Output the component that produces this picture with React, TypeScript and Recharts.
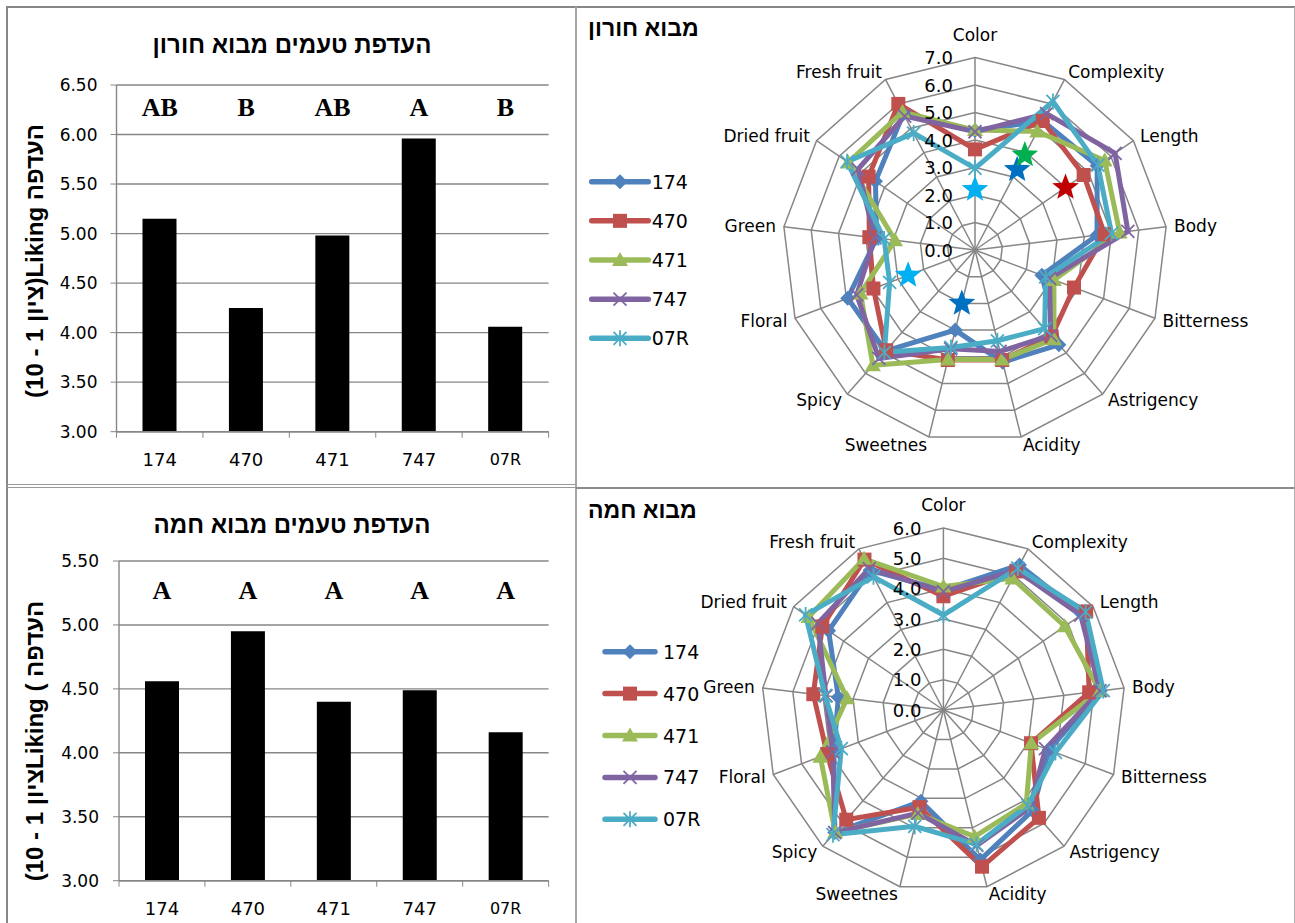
import React from 'react';
import {
  BarChart, Bar, XAxis, YAxis, CartesianGrid, ReferenceDot,
  RadarChart, Radar, PolarGrid, PolarAngleAxis, PolarRadiusAxis,
} from 'recharts';

const FONT = "'DejaVu Sans', sans-serif";
const HEB = "'Liberation Sans', 'DejaVu Sans', sans-serif";
const GRID = '#868686';

// bar charts
const categories = ['174', '470', '471', '747', '07R'];
const likingHoron = [5.15, 4.25, 4.98, 5.96, 4.06];
const lettersHoron = ['AB', 'B', 'AB', 'A', 'B'];
const likingHama = [4.56, 4.95, 4.4, 4.49, 4.16];
const lettersHama = ['A', 'A', 'A', 'A', 'A'];
const ticksHoron = [3, 3.5, 4, 4.5, 5, 5.5, 6, 6.5];
const ticksHama = [3, 3.5, 4, 4.5, 5, 5.5];

// radar charts
const attributes = ['Color', 'Complexity', 'Length', 'Body', 'Bitterness', 'Astrigency', 'Acidity',
  'Sweetnes', 'Spicy', 'Floral', 'Green', 'Dried fruit', 'Fresh fruit'];
const seriesColors = ['#4F81BD', '#C0504D', '#9BBB59', '#8064A2', '#4BACC6'];
const seriesMarkers = ['diamond', 'square', 'triangle', 'x', 'asterisk'];

const horon174 = [4.35, 5.3, 5.4, 4.47, 2.6, 4.6, 4.2, 3.0, 4.9, 4.95, 3.6, 4.4, 5.6];
const horon470 = [3.66, 5.3, 4.8, 4.75, 3.85, 4.2, 4.12, 4.12, 4.87, 3.95, 3.87, 4.7, 6.0];
const horon471 = [4.36, 4.87, 5.73, 5.3, 3.07, 4.33, 4.1, 4.1, 5.6, 4.45, 2.93, 5.6, 5.67];
const horon747 = [4.3, 5.6, 6.19, 5.6, 2.9, 4.15, 3.8, 3.7, 5.27, 4.6, 3.67, 5.17, 5.5];
const horon07R = [2.97, 6.1, 5.43, 5.0, 2.75, 3.82, 3.4, 3.65, 4.97, 3.32, 3.33, 5.65, 4.8];

const starLightBlue = [2.2, null, null, null, null, null, null, null, null, 2.6, null, null, null];
const starBlue = [null, 3.3, null, null, null, null, null, 2.0, null, null, null, null, null];
const starGreen = [null, 3.9, null, null, null, null, null, null, null, null, null, null, null];
const starRed = [null, null, 4.0, null, null, null, null, null, null, null, null, null, null];
const starColors = ['#00B0F0', '#0070C0', '#00B050', '#C00000'];

const hama174 = [3.95, 5.4, 5.55, 5.2, 3.72, 4.43, 5.09, 3.1, 5.4, 3.86, 3.49, 4.6, 5.2];
const hama470 = [3.75, 5.16, 5.72, 4.84, 3.09, 4.75, 5.32, 3.3, 4.83, 4.1, 4.32, 4.85, 5.6];
const hama471 = [4.07, 4.9, 4.86, 5.2, 3.1, 4.12, 4.3, 3.53, 5.38, 4.34, 3.2, 5.4, 5.63];
const hama747 = [3.9, 5.2, 5.5, 5.2, 3.6, 4.3, 4.6, 3.5, 5.4, 3.9, 3.9, 5.03, 5.26];
const hama07R = [3.13, 5.28, 5.7, 5.31, 3.95, 4.2, 4.56, 3.95, 5.49, 3.6, 3.93, 5.52, 4.96];

const horonSeries = [horon174, horon470, horon471, horon747, horon07R];
const hamaSeries = [hama174, hama470, hama471, hama747, hama07R];
const horonStars = [starLightBlue, starBlue, starGreen, starRed];

const buildRadarData = (series: number[][], stars: (number | null)[][]) =>
  attributes.map((attr, i) => {
    const row: any = { attr };
    series.forEach((s, k) => { row['s' + k] = s[i]; });
    stars.forEach((s, k) => { row['st' + k] = s[i]; });
    return row;
  });

function Marker({ kind, x, y, color }: { kind: string; x: number; y: number; color: string }) {
  if (kind === 'diamond') {
    return <polygon points={`${x},${y - 7.5} ${x + 7.5},${y} ${x},${y + 7.5} ${x - 7.5},${y}`} fill={color} />;
  }
  if (kind === 'square') return <rect x={x - 7} y={y - 7} width={14} height={14} fill={color} />;
  if (kind === 'triangle') {
    return <polygon points={`${x},${y - 8} ${x + 8},${y + 6} ${x - 8},${y + 6}`} fill={color} />;
  }
  const d = 6.5;
  return (
    <g stroke={color} strokeWidth={1.8}>
      <line x1={x - d} y1={y - d} x2={x + d} y2={y + d} />
      <line x1={x - d} y1={y + d} x2={x + d} y2={y - d} />
      {kind === 'asterisk' && <line x1={x} y1={y - 8} x2={x} y2={y + 8} />}
    </g>
  );
}

const starPoints = (cx: number, cy: number, R: number, r: number) => {
  const pts: string[] = [];
  for (let i = 0; i < 10; i++) {
    const a = (Math.PI / 5) * i - Math.PI / 2;
    const rad = i % 2 === 0 ? R : r;
    pts.push(`${cx + rad * Math.cos(a)},${cy + rad * Math.sin(a)}`);
  }
  return pts.join(' ');
};

function BarPanel({ top, height, values, letters, letterLevel, ticks, title, titleY, yLabel, yLabelY,
  plotTop, plotBottom, plotLeft, tickMargin }: any) {
  const width = 578;
  const plotRight = 548.6;
  const yAxisW = 70;
  const xAxisH = 40;
  const half = (plotRight - plotLeft) / categories.length / 2;
  const data = categories.map((name, i) => ({ name, v: values[i] }));

  const xTick = (props: any) => {
    const { x, y, payload, index } = props;
    const last = index === categories.length - 1;
    return (
      <g>
        <line x1={x - half} x2={x - half} y1={y} y2={y + 6} stroke={GRID} />
        {last && <line x1={x + half} x2={x + half} y1={y} y2={y + 6} stroke={GRID} />}
        <text x={x} y={y + 28} textAnchor="middle" dominantBaseline="central" fill="#000"
          fontFamily={FONT} fontSize={payload.value === '07R' ? 16 : 18}>{payload.value}</text>
      </g>
    );
  };

  return (
    <div style={{ position: 'absolute', left: 0, top, width, height }}>
      <BarChart width={width} height={height} data={data}
        margin={{ top: plotTop, right: width - plotRight, bottom: height - plotBottom - xAxisH, left: plotLeft - yAxisW }}>
        <CartesianGrid vertical={false} stroke={GRID} strokeWidth={1.4} />
        <XAxis dataKey="name" height={xAxisH} tickSize={0} tickMargin={0} tick={xTick}
          axisLine={{ stroke: GRID, strokeWidth: 1.4 }} tickLine={false} interval={0} />
        <YAxis width={yAxisW} domain={[ticks[0], ticks[ticks.length - 1]]} ticks={ticks}
          tickFormatter={(v: number) => v.toFixed(2)} tickSize={6} tickMargin={tickMargin}
          axisLine={{ stroke: GRID, strokeWidth: 1.4 }} tickLine={{ stroke: GRID }}
          tick={{ fill: '#000', fontSize: 17, fontFamily: FONT }} />
        <Bar dataKey="v" fill="#000" barSize={34} isAnimationActive={false} />
        {letters.map((l: string, i: number) => (
          <ReferenceDot key={i} x={categories[i]} y={letterLevel} r={0}
            shape={(p: any) => (
              <text x={p.cx} y={p.cy} textAnchor="middle" dominantBaseline="central" fill="#000"
                fontFamily="'Liberation Serif', serif" fontWeight="bold" fontSize={26}>{l}</text>
            )} />
        ))}
      </BarChart>
      <div style={{ position: 'absolute', left: 0, right: 0, top: titleY, transform: 'translateY(-50%)',
        textAlign: 'center', paddingLeft: 6, font: `bold 24px ${HEB}`, color: '#000' }}>{title}</div>
      <div style={{ position: 'absolute', left: 35, top: yLabelY, width: 0, height: 0 }}>
        <div style={{ position: 'absolute', whiteSpace: 'nowrap', transform: 'translate(-50%, -50%) rotate(-90deg)',
          font: `bold 24px ${HEB}`, color: '#000' }}>{yLabel}</div>
      </div>
    </div>
  );
}

function RadarPanel({ top, height, data, max, cx, cy, radius, starCount, title, titleY, legendY, legendX }: any) {
  const width = 717;
  const radiusTicks = Array.from({ length: max + 1 }, (_, i) => i);

  const angleTick = (props: any) => {
    const { x, y, payload } = props;
    const dx = x - cx;
    const dy = y - cy;
    const r = Math.hypot(dx, dy) || 1;
    const ux = dx / r;
    const uy = dy / r;
    const anchor = ux > 0.15 ? 'start' : ux < -0.15 ? 'end' : 'middle';
    const shiftY = anchor === 'middle' ? uy * 15 : 0;
    return (
      <text x={x} y={y + shiftY} textAnchor={anchor} dominantBaseline="central" fill="#000"
        fontFamily={FONT} fontSize={17}>{payload.value}</text>
    );
  };

  const radiusTick = (props: any) => (
    <text x={props.x - 22} y={props.y} textAnchor="end" dominantBaseline="central" fill="#000"
      fontFamily={FONT} fontSize={18}>{Number(props.payload.value).toFixed(1)}</text>
  );

  const starShape = (key: string, color: string) => (props: any) => (
    <g>
      {(props.points || [])
        .filter((p: any) => p.payload && p.payload[key] != null && Number.isFinite(p.x))
        .map((p: any, i: number) => (
          <polygon key={i} points={starPoints(p.x, p.y, 14, 6)} fill={color} />
        ))}
    </g>
  );

  return (
    <div style={{ position: 'absolute', left: 578, top, width, height }}>
      <RadarChart width={width} height={height} data={data} cx={cx} cy={cy} outerRadius={radius}
        margin={{ top: 0, right: 0, bottom: 0, left: 0 }}>
        <PolarGrid stroke={GRID} strokeWidth={1.5} />
        <PolarAngleAxis dataKey="attr" tick={angleTick} tickLine={false} axisLine={false} />
        <PolarRadiusAxis angle={90} domain={[0, max]} ticks={radiusTicks} tickCount={max + 1}
          axisLine={false} tick={radiusTick} />
        {seriesColors.map((c, k) => (
          <Radar key={'s' + k} name={categories[k]} dataKey={'s' + k} stroke={c} strokeWidth={5}
            fill="none" fillOpacity={0} isAnimationActive={false}
            dot={(p: any) => <Marker key={p.index} kind={seriesMarkers[k]} x={p.cx} y={p.cy} color={c} />} />
        ))}
        {Array.from({ length: starCount }, (_, k) => (
          <Radar key={'st' + k} dataKey={'st' + k} legendType="none" stroke="none" fill="none"
            isAnimationActive={false} shape={starShape('st' + k, starColors[k])} />
        ))}
      </RadarChart>
      <svg width={width} height={height} style={{ position: 'absolute', left: 0, top: 0 }}>
        {categories.map((name, k) => {
          const y = legendY[0] + k * legendY[1];
          const mid = (legendX[0] + legendX[1]) / 2;
          return (
            <g key={name}>
              <line x1={legendX[0]} x2={legendX[1]} y1={y} y2={y} stroke={seriesColors[k]}
                strokeWidth={5.5} strokeLinecap="round" />
              <Marker kind={seriesMarkers[k]} x={mid} y={y} color={seriesColors[k]} />
              <text x={legendX[2]} y={y} dominantBaseline="central" fontFamily={FONT} fontSize={19}
                fill="#000">{name}</text>
            </g>
          );
        })}
      </svg>
      <div style={{ position: 'absolute', left: 10, top: titleY, transform: 'translateY(-50%)',
        whiteSpace: 'nowrap', font: `bold 23px ${HEB}`, color: '#000' }}>{title}</div>
    </div>
  );
}

export default function App() {
  const horonData = buildRadarData(horonSeries, horonStars);
  const hamaData = buildRadarData(hamaSeries, []);
  return (
    <div style={{ position: 'absolute', left: 0, top: 0, width: 1295, height: 923, background: '#fff', overflow: 'hidden' }}>
      <BarPanel top={0} height={482} values={likingHoron} letters={lettersHoron} letterLevel={6.27}
        ticks={ticksHoron} title="העדפת טעמים מבוא חורון" titleY={45}
        yLabel="(10 - 1 ציון)Liking  העדפה" yLabelY={261}
        plotTop={85} plotBottom={431.7} plotLeft={116.5} tickMargin={13} />
      <BarPanel top={487} height={436} values={likingHama} letters={lettersHama} letterLevel={5.27}
        ticks={ticksHama} title="העדפת טעמים מבוא חמה" titleY={38}
        yLabel="(10 - 1 ציוןLiking ( העדפה" yLabelY={254}
        plotTop={74} plotBottom={393.7} plotLeft={119} tickMargin={14} />
      <RadarPanel top={0} height={482} data={horonData} max={7} cx={397} cy={250} radius={192.5}
        starCount={4} title="מבוא חורון" titleY={28} legendY={[181.7, 39.15]} legendX={[13.7, 70.3, 73.7]} />
      <RadarPanel top={485} height={438} data={hamaData} max={6} cx={365.4} cy={225} radius={182}
        starCount={0} title="מבוא חמה" titleY={25} legendY={[166.7, 41.9]} legendX={[27, 77, 85]} />

      <div style={{ position: 'absolute', left: 6, top: 6, width: 1289, height: 2, background: '#878787' }} />
      <div style={{ position: 'absolute', left: 6, top: 6, width: 2, height: 917, background: '#878787' }} />
      <div style={{ position: 'absolute', left: 575, top: 7, width: 2, height: 916, background: '#a6a6a6' }} />
      <div style={{ position: 'absolute', left: 7, top: 484, width: 569, height: 1, background: '#9a9a9a' }} />
      <div style={{ position: 'absolute', left: 7, top: 487, width: 569, height: 1, background: '#9a9a9a' }} />
      <div style={{ position: 'absolute', left: 576, top: 486.5, width: 719, height: 2.3, background: '#8c8c8c' }} />
      <div style={{ position: 'absolute', left: 1294, top: 7, width: 1, height: 916, background: '#b0b0b0' }} />
    </div>
  );
}
